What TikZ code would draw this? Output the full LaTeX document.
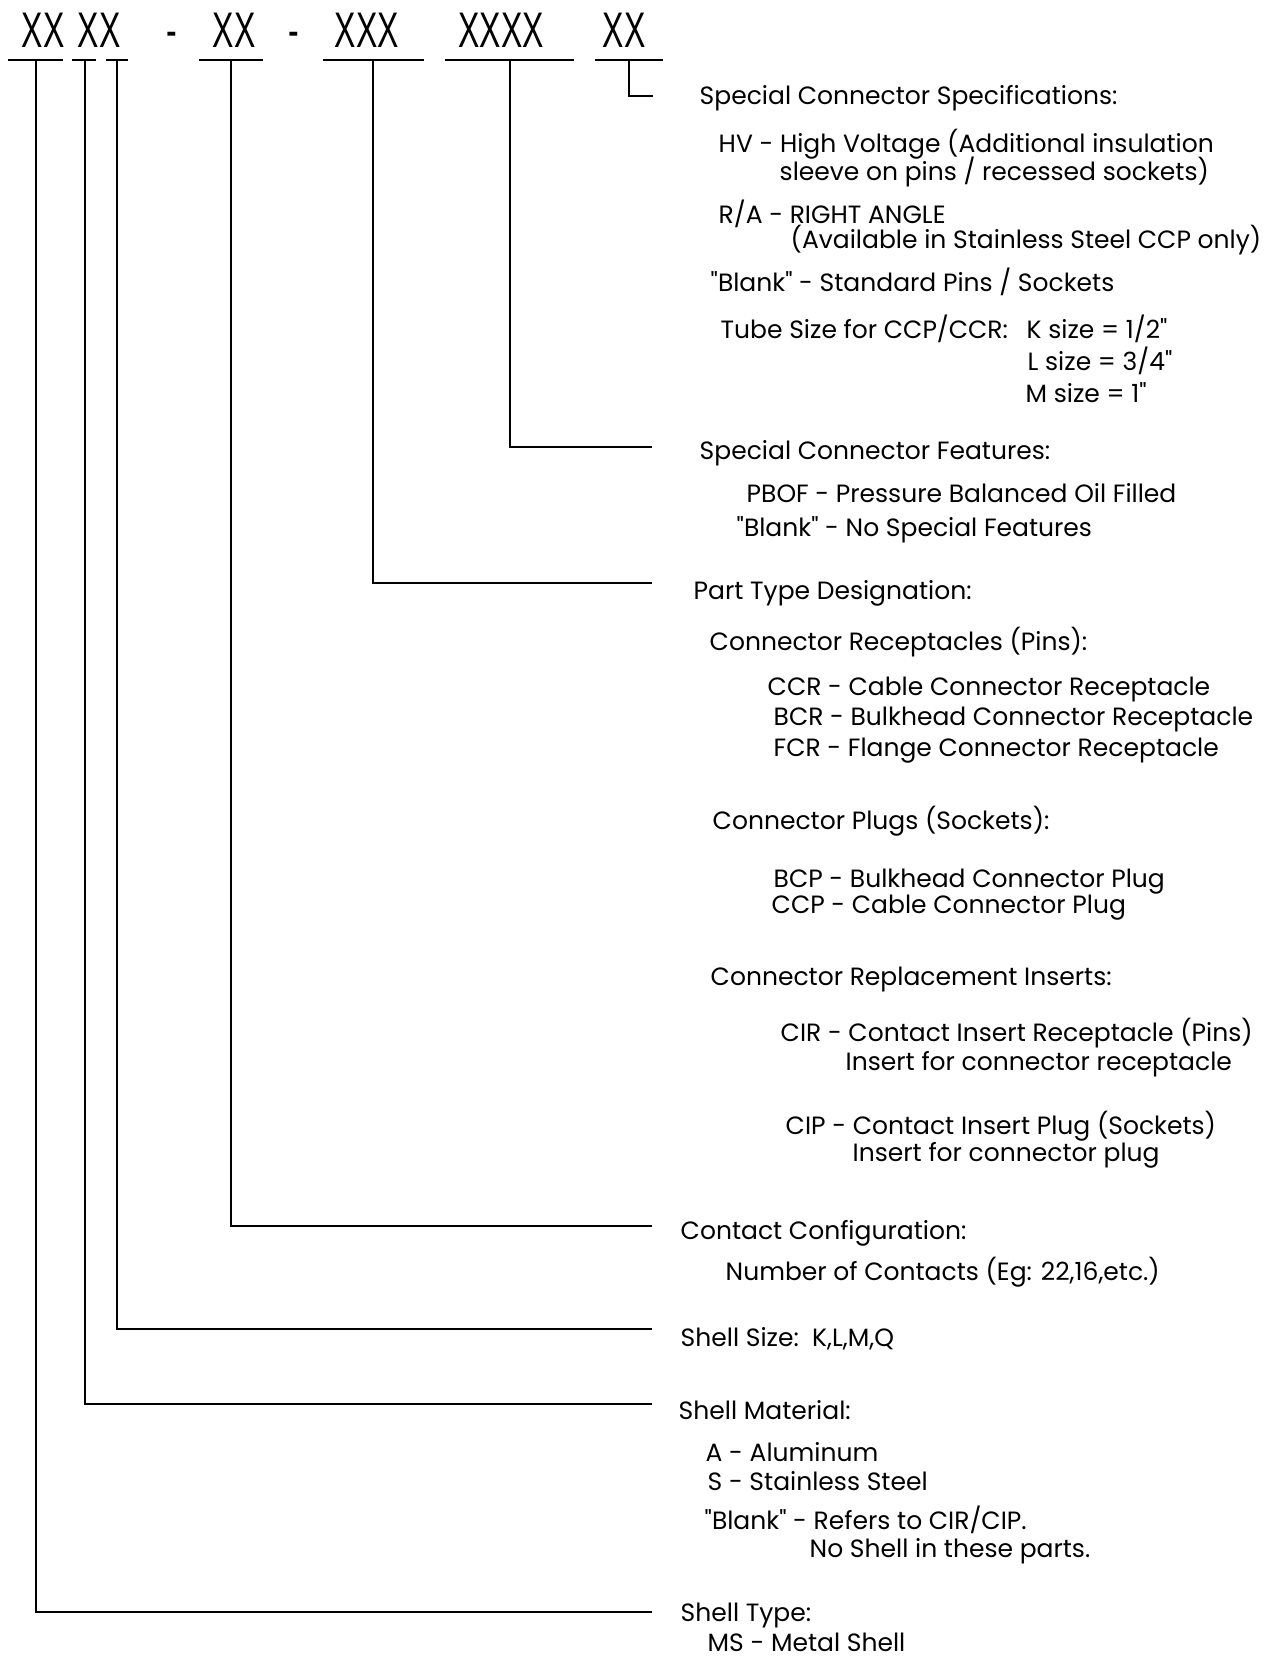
\documentclass[tikz,border=0pt]{standalone}
\usepackage{fontspec}
\setmainfont{Poppins}[Ligatures=TeXOff]
\newfontfamily\codefont{Liberation Sans}
\usepackage{tikz}

\begin{document}
\begin{tikzpicture}[x=0.5pt,y=-0.5pt,line width=0.7pt,
  code/.style={font=\codefont\fontsize{25}{25}\selectfont,xscale=0.64,inner sep=0pt,anchor=base},
  txt/.style={anchor=base west,inner sep=0pt,font=\fontsize{12.5}{14}\selectfont}]
  \useasboundingbox (0,0) rectangle (1269,1658);
  \node[code] (cType) at (43,48) {XX};
  \node[code] (cMat) at (99,48) {XX};
  \node[code] (dash1) at (172,48) {-};
  \node[code] (cCont) at (234,48) {XX};
  \node[code] (dash2) at (294,48) {-};
  \node[code] (cPart) at (367,48) {XXX};
  \node[code] (cFeat) at (501,48) {XXXX};
  \node[code] (cSpec) at (624,48) {XX};
  \draw (8,60) -- (63,60) (72,60) -- (96,60) (106,60) -- (128,60)
        (199,60) -- (263,60) (323,60) -- (424,60) (445,60) -- (574,60)
        (595,60) -- (663,60);
  \coordinate (uType) at (36,60);
  \coordinate (uMat) at (85,60);
  \coordinate (uSize) at (117,60);
  \coordinate (uCont) at (231,60);
  \coordinate (uPart) at (373,60);
  \coordinate (uFeat) at (510,60);
  \coordinate (uSpec) at (629,60);
  \coordinate (eSpec) at (653,96);
  \coordinate (eFeat) at (652,447);
  \coordinate (ePart) at (652,583);
  \coordinate (eCont) at (652,1226);
  \coordinate (eSize) at (652,1329);
  \coordinate (eMat) at (652,1404);
  \coordinate (eType) at (652,1612);
  \draw (uSpec) |- (eSpec);
  \draw (uFeat) |- (eFeat);
  \draw (uPart) |- (ePart);
  \draw (uCont) |- (eCont);
  \draw (uSize) |- (eSize);
  \draw (uMat) |- (eMat);
  \draw (uType) |- (eType);

  \node[txt] (specT) at (699,105) {Special Connector Specifications:};
  \node[txt] (hv) at (718,153) {HV - High Voltage (Additional insulation};
  \node[txt] (hv2) at (779,181) {sleeve on pins / recessed sockets)};
  \node[txt] (ra) at (718,224) {R/A - RIGHT ANGLE};
  \node[txt] (ra2) at (790,249) {(Available in Stainless Steel CCP only)};
  \node[txt] (blank1) at (710,292) {"Blank" - Standard Pins / Sockets};
  \node[txt] (tube) at (720,339) {Tube Size for CCP/CCR:};
  \node[txt] (ksize) at (1026,339) {K size = 1/2"};
  \node[txt] (lsize) at (1027,371) {L size = 3/4"};
  \node[txt] (msize) at (1025,402) {M size = 1"};

  \node[txt] (featT) at (699,459) {Special Connector Features:};
  \node[txt] (pbof) at (746,502) {PBOF - Pressure Balanced Oil Filled};
  \node[txt] (blank2) at (736,536) {"Blank" - No Special Features};

  \node[txt] (partT) at (693,599) {Part Type Designation:};
  \node[txt] (recT) at (709,650) {Connector Receptacles (Pins):};
  \node[txt] (ccr) at (767,695) {CCR - Cable Connector Receptacle};
  \node[txt] (bcr) at (773,725) {BCR - Bulkhead Connector Receptacle};
  \node[txt] (fcr) at (773,756) {FCR - Flange Connector Receptacle};
  \node[txt] (plugT) at (712,829) {Connector Plugs (Sockets):};
  \node[txt] (bcp) at (773,887) {BCP - Bulkhead Connector Plug};
  \node[txt] (ccp) at (771,913) {CCP - Cable Connector Plug};
  \node[txt] (insT) at (710,985) {Connector Replacement Inserts:};
  \node[txt] (cir) at (780,1041) {CIR - Contact Insert Receptacle (Pins)};
  \node[txt] (cir2) at (845,1070) {Insert for connector receptacle};
  \node[txt] (cip) at (785,1134) {CIP - Contact Insert Plug (Sockets)};
  \node[txt] (cip2) at (852,1161) {Insert for connector plug};

  \node[txt] (contT) at (680,1239) {Contact Configuration:};
  \node[txt] (num) at (725,1280) {Number of Contacts (Eg: 22,16,etc.)};
  \node[txt] (sizeT) at (680,1346) {Shell Size:\ \ K,L,M,Q};
  \node[txt] (matT) at (678,1419) {Shell Material:};
  \node[txt] (alu) at (705,1461) {A - Aluminum};
  \node[txt] (ss) at (707,1490) {S - Stainless Steel};
  \node[txt] (blank3) at (704,1529) {"Blank" - Refers to CIR/CIP.};
  \node[txt] (noshell) at (809,1557) {No Shell in these parts.};
  \node[txt] (typeT) at (680,1621) {Shell Type:};
  \node[txt] (ms) at (707,1651) {MS - Metal Shell};
\end{tikzpicture}
\end{document}
